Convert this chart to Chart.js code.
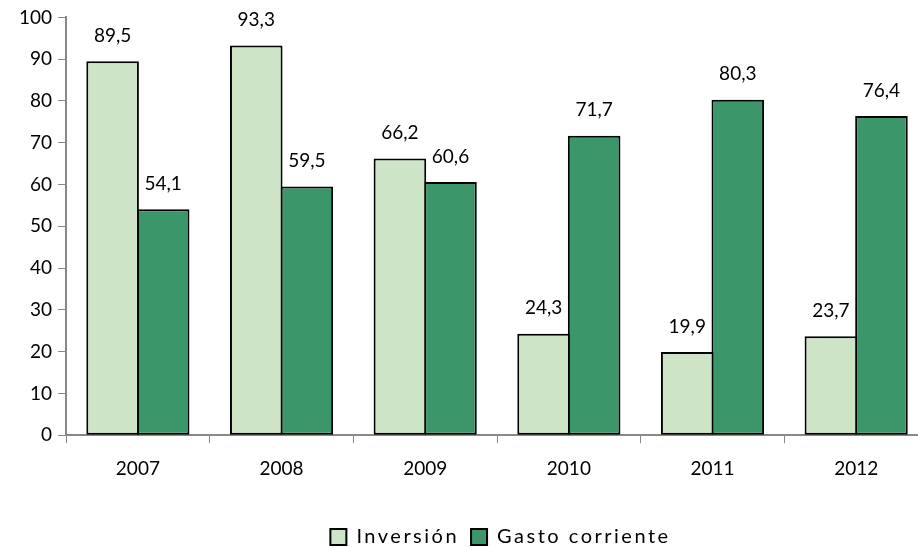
<!DOCTYPE html>
<html>
<head>
<meta charset="utf-8">
<script src="https://cdn.jsdelivr.net/npm/chart.js@4.4.0/dist/chart.umd.min.js"></script>
<style>
  html, body { margin: 0; padding: 0; background: #fff; overflow: hidden; }
  /* plot runs a little past the right edge of the window, as in the original */
  #wrap { width: 928px; height: 547px; }
</style>
</head>
<body>
<div id="wrap"><canvas id="chart"></canvas></div>
<script>
const years = ['2007', '2008', '2009', '2010', '2011', '2012'];
const inversion = [89.5, 93.3, 66.2, 24.3, 19.9, 23.7];
const gastoCorriente = [54.1, 59.5, 60.6, 71.7, 80.3, 76.4];

const fontFamily = 'Lato, "Open Sans", sans-serif';

// labels above each bar, comma decimal
const barLabels = {
  id: 'barLabels',
  afterDatasetsDraw(chart) {
    const ctx = chart.ctx;
    ctx.save();
    ctx.font = '19px ' + fontFamily;
    ctx.fillStyle = '#000';
    ctx.textAlign = 'center';
    ctx.textBaseline = 'bottom';
    chart.data.datasets.forEach((ds, di) => {
      chart.getDatasetMeta(di).data.forEach((bar, i) => {
        const txt = ds.data[i].toFixed(1).replace('.', ',');
        ctx.fillText(txt, bar.x, bar.y - 16);
      });
    });
    ctx.restore();
  }
};

// wider letter spacing in the legend, and nudge it lower / to the right
const legendTweak = {
  id: 'legendTweak',
  afterInit(chart) {
    const lg = chart.legend;
    if (!lg) return;
    const fit = lg.fit.bind(lg);
    const draw = lg.draw.bind(lg);
    lg.fit = function () { chart.ctx.letterSpacing = '2.5px'; fit(); chart.ctx.letterSpacing = '0px'; };
    lg.draw = function () {
      const c = chart.ctx;
      c.save();
      c.translate(30, 10);
      c.letterSpacing = '2.5px';
      draw();
      c.letterSpacing = '0px';
      c.restore();
    };
  }
};

const ctx = document.getElementById('chart').getContext('2d');
new Chart(ctx, {
  type: 'bar',
  data: {
    labels: years,
    datasets: [{
      label: 'Inversión',
      data: inversion,
      backgroundColor: '#cde5c6',
      borderColor: '#000',
      borderWidth: 2,
      borderSkipped: false
    }, {
      label: 'Gasto corriente',
      data: gastoCorriente,
      backgroundColor: '#3b976a',
      borderColor: '#000',
      borderWidth: 2,
      borderSkipped: false
    }]
  },
  options: {
    responsive: true,
    maintainAspectRatio: false,
    animation: false,
    layout: { padding: { top: 15, right: 0, left: 13, bottom: 0 } },
    datasets: { bar: { categoryPercentage: 0.704, barPercentage: 1.04 } },
    plugins: {
      legend: {
        position: 'bottom',
        labels: {
          boxWidth: 16,
          boxHeight: 16,
          padding: 12,
          color: '#000',
          font: { family: fontFamily, size: 20 }
        }
      },
      tooltip: { enabled: false }
    },
    scales: {
      x: {
        offset: true,
        grid: {
          offset: true,
          drawOnChartArea: false,
          drawTicks: true,
          tickLength: 8,
          color: '#888'
        },
        border: { color: '#888', width: 2 },
        ticks: {
          color: '#000',
          padding: 14,
          font: { family: fontFamily, size: 19 }
        },
        afterFit(scale) { scale.height += 11; }
      },
      y: {
        min: 0,
        max: 100,
        ticks: {
          stepSize: 10,
          color: '#000',
          padding: 6,
          font: { family: fontFamily, size: 19 }
        },
        grid: {
          drawOnChartArea: false,
          drawTicks: true,
          tickLength: 8,
          color: '#888'
        },
        border: { color: '#888', width: 2 }
      }
    }
  },
  plugins: [barLabels, legendTweak]
});
</script>
</body>
</html>
